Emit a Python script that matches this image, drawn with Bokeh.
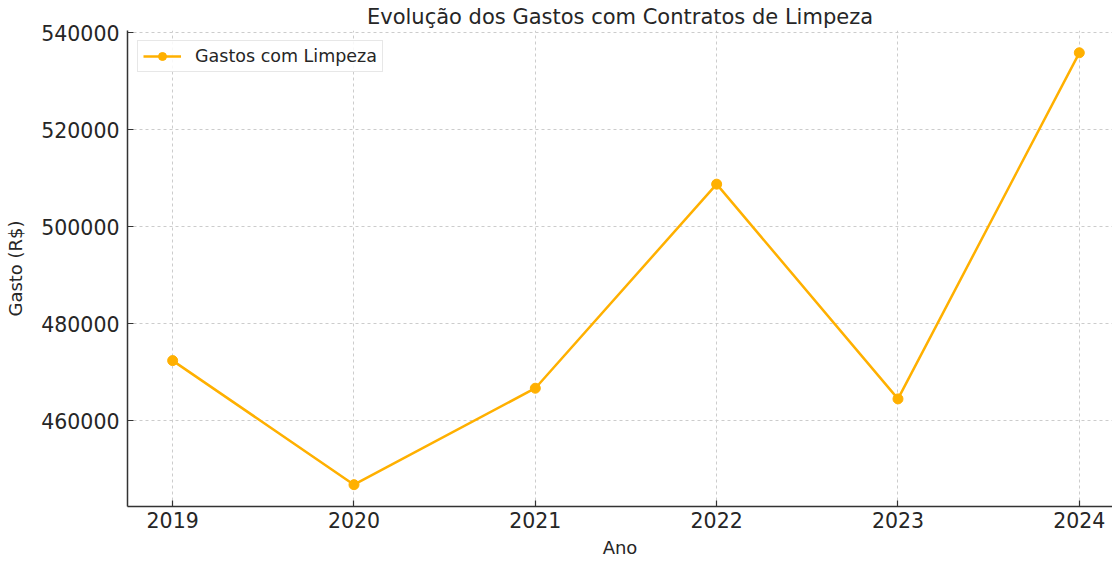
from bokeh.plotting import figure
from bokeh.models import Range1d, FixedTicker, BasicTickFormatter
from bokeh.embed import file_html
from bokeh.resources import INLINE

anos = [2019, 2020, 2021, 2022, 2023, 2024]
gastos = [472400, 446800, 466700, 508800, 464500, 535900]
y_ticks = [460000, 480000, 500000, 520000, 540000]
titulo = "Evolução dos Gastos com Contratos de Limpeza"
serie = "Gastos com Limpeza"

FONT = "DejaVu Sans"
COR = "#FFB000"
TXT = "#262626"

p = figure(width=1112, height=560, output_backend="svg", toolbar_location=None,
           x_range=Range1d(2018.751, 2024.183), y_range=Range1d(442300, 540500),
           min_border_left=127, min_border_right=0, min_border_bottom=30, min_border_top=0)

p.title.text = titulo
p.title.text_font = FONT
p.title.text_font_size = "21px"
p.title.text_font_style = "normal"
p.title.text_color = TXT
p.title.align = "center"
p.title.standoff = 4

p.line(anos, gastos, line_color=COR, line_width=2.5, legend_label=serie)
p.scatter(anos, gastos, size=10, fill_color=COR, line_color=COR, legend_label=serie)

p.outline_line_color = None
for ax in (p.xaxis, p.yaxis):
    ax.axis_line_color = "#333333"
    ax.axis_line_width = 1.5
    ax.major_tick_in = 6
    ax.major_tick_out = 0
    ax.major_tick_line_color = "#333333"
    ax.major_tick_line_width = 1.2
    ax.minor_tick_line_color = None
    ax.major_label_text_font = FONT
    ax.major_label_text_font_size = "20.5px"
    ax.major_label_text_color = TXT
    ax.axis_label_text_font = FONT
    ax.axis_label_text_font_size = "18px"
    ax.axis_label_text_font_style = "normal"
    ax.axis_label_text_color = TXT

p.xaxis.ticker = FixedTicker(ticks=anos)
p.yaxis.ticker = FixedTicker(ticks=y_ticks)
p.yaxis.formatter = BasicTickFormatter(use_scientific=False)
p.xaxis.formatter = BasicTickFormatter(use_scientific=False)
p.xaxis.axis_label = "Ano"
p.yaxis.axis_label = "Gasto (R$)"
p.xaxis.major_label_standoff = 5
p.yaxis.major_label_standoff = 8
p.xaxis.axis_label_standoff = 6
p.yaxis.axis_label_standoff = 12

for g in (p.xgrid, p.ygrid):
    g.grid_line_color = "#cccccc"
    g.grid_line_dash = "3 3"
    g.grid_line_width = 1
p.xgrid.ticker = FixedTicker(ticks=anos)
p.ygrid.ticker = FixedTicker(ticks=y_ticks)

lg = p.legend[0]
lg.location = "top_left"
lg.label_text_font = FONT
lg.label_text_font_size = "17.5px"
lg.label_text_color = TXT
lg.border_line_color = "#d0d0d0"
lg.border_line_width = 1
lg.background_fill_alpha = 0.85
lg.margin = 10
lg.padding = 5
lg.glyph_width = 38
lg.label_standoff = 14

open("out.html", "w").write(file_html(p, INLINE))
